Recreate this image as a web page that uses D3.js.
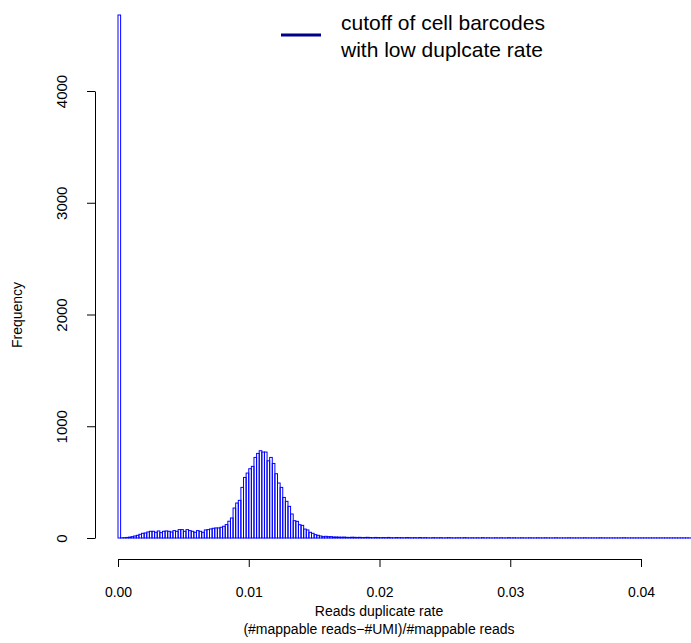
<!DOCTYPE html>
<html><head><meta charset="utf-8">
<script src="https://cdn.jsdelivr.net/npm/d3@7"></script>
<style>
body{margin:0;background:#fff}
svg{display:block;font-family:"Liberation Sans",Arial,Helvetica,sans-serif}
</style>
</head><body>
<svg id="chart" width="691" height="643"></svg>
<script>
// ---- data ----
const binWidth = 0.0002;          // histogram bin width
const spikeCounts = [4680];       // bin 0 (duplicate rate == 0)
const lowCounts = [2, 3, 5, 8, 12, 18, 24, 33, 42, 45, 54, 60, 60, 51, 63, 48, 60, 63, 60, 54,
                   66, 60, 75, 75, 60, 75, 66, 60, 51, 66, 60, 51, 72, 75, 81, 87, 90, 90, 96, 105, 120];
const peakCounts = [150, 179, 268, 313, 337, 453, 542, 581, 620, 641, 721, 757, 781, 769, 769, 691,
                    721, 667, 575, 492, 453, 363, 328, 283, 215, 155, 149, 119, 113, 80, 72, 51, 42,
                    30, 24, 18, 12, 15, 12, 12, 9];
const tailCounts = [9, 8, 7, 8, 6, 5, 7, 6, 5, 6, 4, 5, 6, 4, 3, 5, 4, 3,
                    4, 3, 5, 3, 2, 4, 3, 3, 2, 4, 3, 2, 3, 2, 4, 2, 3, 2, 1, 3,
                    2, 2, 3, 1, 2, 3, 2, 1, 2, 2, 1, 3, 2, 1, 2, 1, 2, 1, 3, 1,
                    2, 1, 1, 2, 1, 2, 1, 1, 3, 1, 2, 1, 1, 2, 1, 1, 2, 1, 1, 2,
                    1, 1, 2, 1, 1, 1, 2, 1, 1, 1, 1, 2, 1, 1, 1, 1, 1, 2, 1, 1,
                    1, 1, 1, 2, 1, 1, 1, 1, 1, 1, 1, 1, 2, 1, 1, 1, 1, 1, 1, 1,
                    1, 1, 1, 1, 1, 1, 1, 1, 1, 1, 1, 1, 1, 1, 1, 1, 1, 1];
const xTicks = [0, 0.01, 0.02, 0.03, 0.04];
const yTicks = [0, 1000, 2000, 3000, 4000];
const xTitle = ["Reads duplicate rate", "(#mappable reads\u2212#UMI)/#mappable reads"];
const yTitle = "Frequency";
const legendLines = ["cutoff of cell barcodes", "with low duplcate rate"];

// ---- build bins ----
const counts = [].concat(spikeCounts, lowCounts, peakCounts, tailCounts);
const bins = counts.map((c, i) => ({x0: i * binWidth, x1: (i + 1) * binWidth, n: c}));

const svg = d3.select("#chart");
const x = d3.scaleLinear().domain([0, 0.04]).range([118, 641]);
const y = d3.scaleLinear().domain([0, 4000]).range([538, 91]);

// bars
svg.append("g").selectAll("rect").data(bins).join("rect")
  .attr("x", d => x(d.x0))
  .attr("width", d => x(d.x1) - x(d.x0))
  .attr("y", d => y(d.n))
  .attr("height", d => y(0) - y(d.n))
  .attr("fill", "none")
  .attr("stroke", "#0000ff")
  .attr("stroke-width", 1);

// x axis
const gx = svg.append("g").attr("transform", "translate(0,559)")
  .call(d3.axisBottom(x).tickValues(xTicks).tickFormat(d3.format(".2f"))
        .tickSize(8).tickSizeOuter(0).tickPadding(20));
gx.selectAll("text").attr("font-size", 14).attr("fill", "#000").attr("font-family", null);
gx.selectAll("line,path").attr("stroke", "#000");

// y axis
const gy = svg.append("g").attr("transform", "translate(95,0)")
  .call(d3.axisLeft(y).tickValues(yTicks).tickFormat(d3.format("d"))
        .tickSize(8).tickSizeOuter(0));
gy.selectAll("line,path").attr("stroke", "#000");
gy.selectAll("text")
  .attr("x", null).attr("dy", "0.35em")
  .attr("transform", "translate(-33,0) rotate(-90)")
  .attr("text-anchor", "middle").attr("font-size", 15).attr("fill", "#000").attr("font-family", null);

// axis titles
svg.append("text").attr("x", 379).attr("y", 616).attr("text-anchor", "middle")
  .attr("font-size", 14).text(xTitle[0]);
svg.append("text").attr("x", 379).attr("y", 634).attr("text-anchor", "middle")
  .attr("font-size", 14).text(xTitle[1]);
svg.append("text").attr("transform", "translate(22,315) rotate(-90)").attr("text-anchor", "middle")
  .attr("font-size", 14).text(yTitle);

// legend
const lg = svg.append("g");
lg.append("line").attr("x1", 281).attr("x2", 321).attr("y1", 35).attr("y2", 35)
  .attr("stroke", "#00008b").attr("stroke-width", 3);
lg.selectAll("text").data(legendLines).join("text")
  .attr("x", 341).attr("y", (d, i) => 30 + i * 27)
  .attr("font-size", 21).text(d => d);
</script>
</body></html>
